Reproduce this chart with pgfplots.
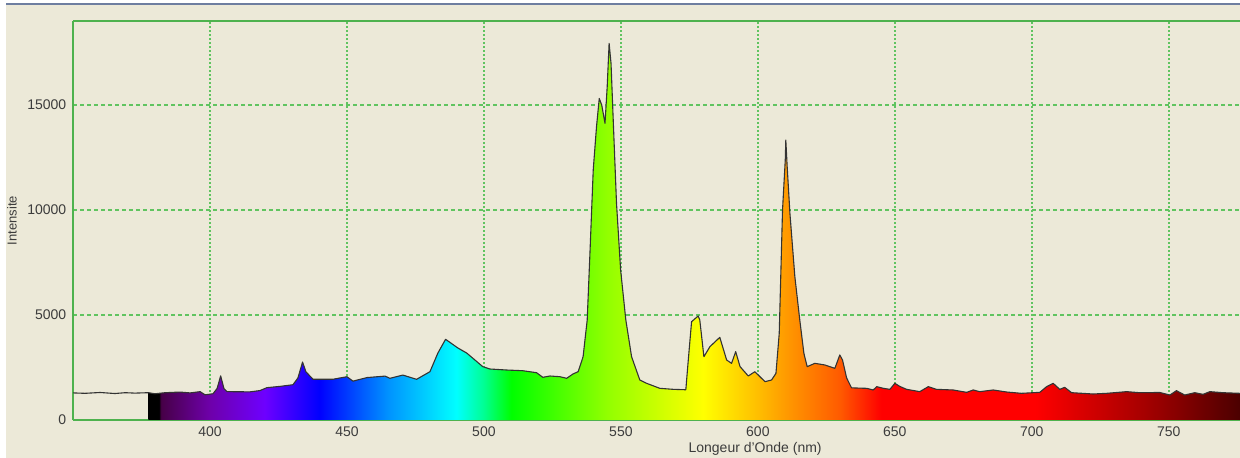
\documentclass[border=0pt]{standalone}
\usepackage{pgfplots}
\pgfplotsset{compat=1.18}
\usepackage{pgfplotstable}
\usepackage{fontspec}
\setmainfont{Liberation Sans}
\definecolor{bgbeige}{RGB}{236,233,216}
\definecolor{axgreen}{RGB}{78,178,78}
\definecolor{gridgreen}{RGB}{96,196,96}
\definecolor{winblue}{RGB}{110,126,160}
\definecolor{txt}{RGB}{60,60,60}
\definecolor{s382}{RGB}{70,0,70}
\definecolor{s400}{RGB}{110,0,170}
\definecolor{s420}{RGB}{110,0,255}
\definecolor{s440}{RGB}{0,0,255}
\definecolor{s465}{RGB}{0,146,255}
\definecolor{s490}{RGB}{0,255,255}
\definecolor{s500}{RGB}{0,255,146}
\definecolor{s510}{RGB}{0,255,0}
\definecolor{s545}{RGB}{146,255,0}
\definecolor{s580}{RGB}{255,255,0}
\definecolor{s600}{RGB}{255,190,0}
\definecolor{s612}{RGB}{255,148,0}
\definecolor{s630}{RGB}{255,90,0}
\definecolor{s645}{RGB}{255,0,0}
\definecolor{s700}{RGB}{255,0,0}
\definecolor{s740}{RGB}{165,0,0}
\definecolor{s780}{RGB}{65,0,0}
\pgfdeclarehorizontalshading{spectrum}{100bp}{color(0bp)=(black); color(25bp)=(black); color(25.497bp)=(black); color(25.559bp)=(s382); color(27.795bp)=(s400); color(30.280bp)=(s420); color(32.764bp)=(s440); color(35.870bp)=(s465); color(38.975bp)=(s490); color(40.217bp)=(s500); color(41.460bp)=(s510); color(45.807bp)=(s545); color(50.155bp)=(s580); color(52.640bp)=(s600); color(54.130bp)=(s612); color(56.366bp)=(s630); color(58.230bp)=(s645); color(65.217bp)=(s700); color(70.186bp)=(s740); color(75bp)=(s780); color(100bp)=(s780)}

\pgfplotstableread{
x y
350.0 1290
354.4 1270
359.9 1310
365.3 1260
369.0 1300
372.6 1280
377.5 1300
379.9 1250
383.6 1300
389.1 1330
392.7 1290
396.4 1350
398.2 1200
401.1 1250
402.6 1500
403.9 2100
405.1 1500
406.2 1350
414.6 1340
418.2 1400
420.8 1540
425.5 1600
430.3 1680
432.1 2000
433.8 2760
435.0 2300
437.6 1940
444.9 1940
447.4 2000
450.0 2060
452.2 1850
457.3 2020
463.9 2090
465.7 1985
470.4 2140
475.4 1937
480.3 2300
483.2 3190
486.0 3843
490.5 3428
493.7 3190
499.6 2538
502.2 2428
508.3 2380
514.2 2347
519.2 2252
521.5 2033
524.1 2095
527.7 2062
530.2 1985
532.5 2190
534.4 2300
536.2 3015
537.7 4762
538.7 7937
539.9 11905
541.1 13968
542.1 15310
543.0 15000
544.2 14127
545.0 15870
545.7 17937
546.4 16984
547.2 14286
548.4 10317
549.9 7143
551.8 4762
553.9 3015
556.9 1905
559.4 1746
564.2 1508
569.1 1460
573.7 1440
574.6 2857
575.8 4682
578.2 4952
578.8 4762
580.3 3015
582.5 3492
586.1 3937
588.6 2857
590.4 2698
591.9 3254
593.5 2540
596.5 2095
598.9 2300
602.6 1825
605.0 1905
606.6 2222
607.8 4127
609.0 10000
610.0 12380
610.2 13333
610.7 12063
611.7 9841
613.5 6825
615.3 4762
616.8 3174
618.0 2540
620.8 2698
624.5 2619
628.1 2460
629.9 3095
630.9 2857
632.4 2000
634.2 1530
639.7 1508
642.1 1429
643.4 1587
645.8 1508
648.2 1460
650.0 1746
651.8 1600
654.3 1460
659.1 1350
662.2 1587
665.2 1460
671.3 1429
676.2 1317
678.6 1429
681.0 1350
685.9 1429
690.8 1333
696.2 1270
702.9 1317
705.4 1587
707.8 1746
710.2 1460
712.0 1555
714.5 1301
722.4 1238
727.3 1270
734.6 1350
739.4 1300
746.7 1310
750.4 1190
752.8 1396
755.8 1190
759.5 1300
762.5 1222
765.0 1350
769.8 1300
775.9 1270
780.0 1280
}\spec

\begin{document}
\begin{tikzpicture}
\path[use as bounding box] (0,0) rectangle (620pt,229pt);
\fill[white] (0,0) rectangle (620pt,229pt);
\fill[bgbeige] (3pt,0) rectangle (620pt,226.5pt);
\draw[winblue, line width=0.9pt] (3pt,227pt) -- (620pt,227pt);
\begin{axis}[
  at={(36.5pt,19pt)}, anchor=south west,
  scale only axis, width=583.5pt, height=199.5pt,
  xmin=350, xmax=776, ymin=0, ymax=19000,
  axis x line*=box, axis y line*=left,
  axis line style={axgreen, line width=0.9pt},
  major tick length=0pt,
  xtick={400,450,...,750}, ytick={0,5000,10000,15000},
  scaled y ticks=false,
  /pgf/number format/1000 sep={},
  /pgf/number format/assume math mode=true,
  xticklabel pos=lower,
  tick label style={font=\fontsize{7}{8}\selectfont, text=txt},
  xticklabel style={anchor=center, yshift=-5.8pt},
  yticklabel style={anchor=east, inner sep=0pt, xshift=-3.2pt},
  grid=major,
  major x grid style={gridgreen, line width=0.75pt, dash pattern=on 0.75pt off 1.25pt},
  major y grid style={gridgreen, line width=0.75pt, dash pattern=on 2pt off 1.5pt},
  xlabel={Longeur d'Onde (nm)},
  xlabel style={at={(axis description cs:0.5845,0)}, anchor=center, yshift=-14.2pt, font=\fontsize{7}{8}\selectfont, text=txt},
  ylabel={Intensite},
  ylabel style={at={(axis description cs:-0.0523,0.5)}, anchor=center, font=\fontsize{6.5}{8}\selectfont, text=txt},
  clip=true,
]
\addplot[draw=none, shading=spectrum, shading angle=0, restrict x to domain=377.5:800] table[x=x,y=y] {\spec} \closedcycle;
\addplot[black!80, line width=0.55pt, line join=round, mark=none] table[x=x,y=y] {\spec};
\end{axis}
\end{tikzpicture}
\end{document}
